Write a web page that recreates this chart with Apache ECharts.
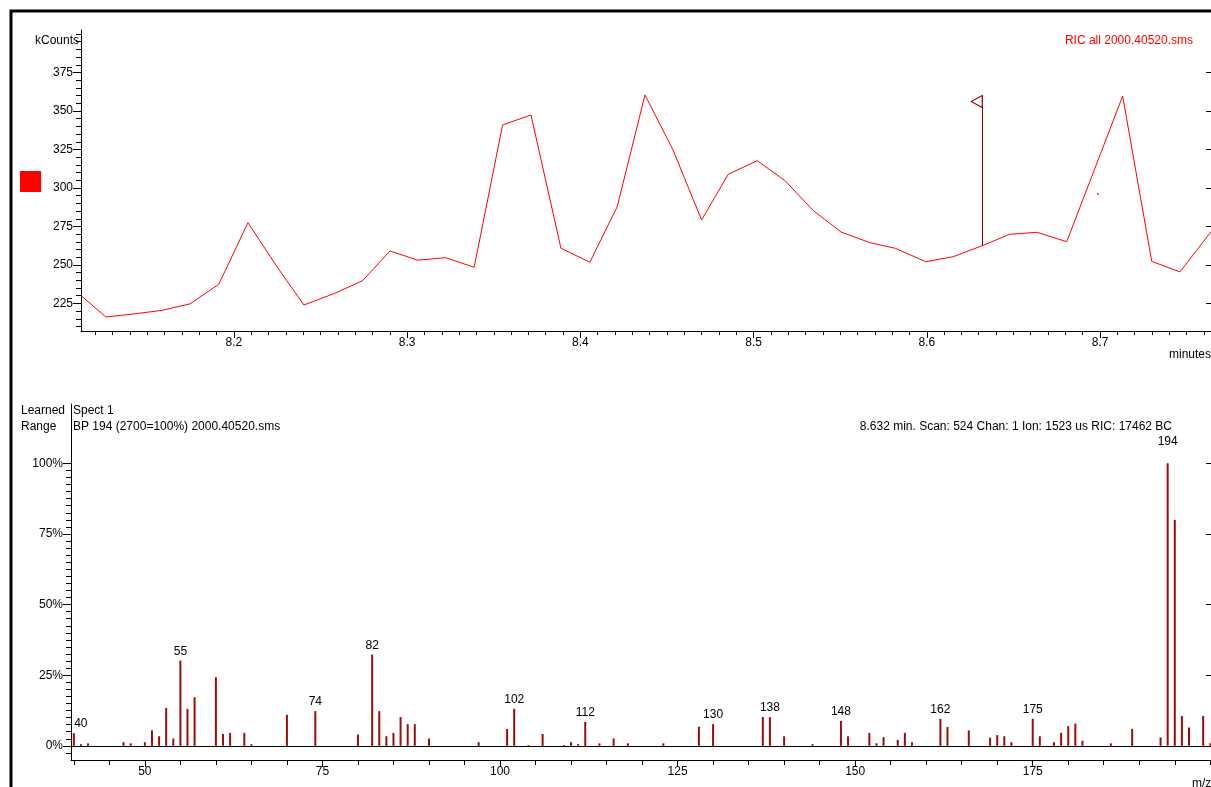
<!DOCTYPE html>
<html>
<head>
<meta charset="utf-8">
<title>RIC all 2000.40520.sms</title>
<script src="https://cdn.jsdelivr.net/npm/echarts@6/dist/echarts.min.js"></script>
<style>
  html, body { margin: 0; padding: 0; background: #fff; }
  #chart { width: 1211px; height: 787px; }
</style>
</head>
<body>
<div id="chart"></div>
<script>
// chromatogram (top panel)
const retentionTime = [8.1117, 8.1261, 8.1423, 8.1584, 8.1746, 8.1913, 8.2081, 8.2248, 8.2404, 8.2583,
  8.2743, 8.2901, 8.3061, 8.3222, 8.3387, 8.3551, 8.3715, 8.3888, 8.4055, 8.4213,
  8.4373, 8.4535, 8.4700, 8.4854, 8.5021, 8.5182, 8.5345, 8.5505, 8.5671, 8.5819,
  8.5995, 8.6154, 8.6320, 8.6478, 8.6636, 8.6808, 8.7131, 8.7299, 8.7462, 8.7641];
const ricCounts = [230.1, 216.2, 218.2, 220.5, 224.7, 237.5, 277.5, 248.9, 224.0, 231.6,
  239.8, 259.1, 253.1, 254.7, 248.5, 340.9, 347.4, 260.8, 251.8, 287.9,
  360.4, 324.7, 279.2, 308.9, 317.7, 304.7, 285.3, 271.4, 264.5, 260.8,
  252.1, 255.4, 262.5, 269.9, 271.2, 265.1, 359.7, 252.3, 245.5, 271.6];
const timeTicks = [8.2, 8.3, 8.4, 8.5, 8.6, 8.7];
const countTicks = [225, 250, 275, 300, 325, 350, 375];
const scanTime = 8.632;
const scanCount = 262.5;
const flagTop = 360;
const strayDot = [8.6988, 296.1];

// mass spectrum (bottom panel)
const mzValues = [40, 41, 42, 47, 48, 50, 51, 52, 53, 54, 55, 56, 57, 60, 61, 62, 64, 65, 70, 74,
  80, 82, 83, 84, 85, 86, 87, 88, 90, 97, 101, 102, 104, 106, 109, 110, 111, 112, 114, 116,
  118, 123, 128, 130, 137, 138, 140, 144, 148, 149, 152, 153, 154, 156, 157, 158, 162, 163, 166, 169,
  170, 171, 172, 175, 176, 178, 179, 180, 181, 182, 186, 189, 193, 194, 195, 196, 197, 199, 200];
const intensities = [4.5, 0.6, 0.9, 1.3, 0.9, 1.3, 5.5, 3.4, 13.4, 2.6, 30.2, 13.1, 17.2, 24.3, 4.2, 4.6, 4.6, 0.6, 11.0, 12.3,
  4.0, 32.3, 12.3, 3.4, 4.6, 10.2, 7.7, 7.7, 2.6, 1.3, 6.0, 13.1, 0.3, 4.2, 0.3, 1.3, 0.6, 8.5, 0.9, 2.6,
  0.9, 0.9, 6.8, 7.7, 10.2, 10.2, 3.4, 0.6, 8.8, 3.4, 4.6, 0.9, 3.1, 2.1, 4.6, 1.3, 9.6, 6.7, 5.5, 2.9,
  3.8, 3.4, 1.3, 9.6, 3.4, 1.3, 4.6, 7.0, 7.9, 1.8, 0.9, 6.0, 3.0, 100, 80, 10.6, 6.5, 10.6, 0.9];
const labelledMz = [40, 55, 74, 82, 102, 112, 130, 138, 148, 162, 175, 194];
const mzTicks = [50, 75, 100, 125, 150, 175];
const pctTicks = [0, 25, 50, 75, 100];

const FONT = '"Liberation Sans", Arial, sans-serif';
const FONT_SIZE = 12;
const TEXT_FONT = FONT_SIZE + 'px ' + FONT;
const INK = '#000';
const BAR_RED = '#9b0c0c';

function steps(from, to, step) {
  const out = [];
  for (let v = from; v <= to + 1e-9; v += step) out.push(+v.toFixed(3));
  return out;
}

// value axis on a fixed scale; several copies share a grid for major/minor/mirror ticks
function axis(base, position, ticks, len, opts) {
  const a = Object.assign({
    type: 'value',
    position: position,
    splitLine: { show: false },
    axisLine: { show: !opts.hideLine, onZero: false, lineStyle: { color: INK, width: 1 } },
    axisTick: { customValues: ticks, length: len, inside: !!opts.inside, lineStyle: { color: INK } },
    axisLabel: { show: false }
  }, base);
  if (opts.labels) {
    a.axisLabel = Object.assign({
      show: true,
      customValues: ticks,
      color: INK,
      fontFamily: FONT,
      fontSize: FONT_SIZE
    }, opts.labels);
  }
  return a;
}

const chart = echarts.init(document.getElementById('chart'));

const topX = { gridIndex: 0, min: 8.1117, max: 8.7641 };
const topY = { gridIndex: 0, min: 207.1, max: 402.6 };
const botX = { gridIndex: 1, min: 39.6, max: 200.1 };
const botY = { gridIndex: 1, min: -5, max: 121 };

const barData = mzValues.map((mz, i) => {
  const item = { value: [mz, intensities[i]] };
  if (mz === 194) item.label = { distance: 16 };
  if (mz === 40) item.label = { offset: [7, 0] };
  return item;
});

chart.setOption({
  animation: false,
  grid: [
    { left: 81, top: 30, width: 1130, height: 301 },
    { left: 71, top: 404, width: 1140, height: 356 }
  ],
  xAxis: [
    axis(topX, 'bottom', timeTicks, 7, { labels: { formatter: v => v.toFixed(1), margin: 6 } }),
    axis(topX, 'bottom', steps(8.12, 8.76, 0.01), 4, { hideLine: true }),
    axis(botX, 'bottom', mzTicks, 7, { labels: { margin: 6 } }),
    axis(botX, 'bottom', steps(40, 200, 5), 5, { hideLine: true })
  ],
  yAxis: [
    axis(topY, 'left', countTicks, 8, { labels: { margin: 8 } }),
    axis(topY, 'left', steps(210, 400, 5), 5, { hideLine: true }),
    axis(topY, 'right', countTicks, 5, { hideLine: true, inside: true }),
    axis(botY, 'left', pctTicks, 8, { labels: { formatter: v => v + '%', margin: 8 } }),
    axis(botY, 'left', steps(-2.5, 100, 2.5), 5, { hideLine: true }),
    axis(botY, 'right', [25, 50, 75, 100], 5, { hideLine: true, inside: true })
  ],
  series: [
    {
      name: 'RIC',
      type: 'line',
      xAxisIndex: 0,
      yAxisIndex: 0,
      data: retentionTime.map((t, i) => [t, ricCounts[i]]),
      showSymbol: false,
      symbol: 'none',
      lineStyle: { color: '#ff0000', width: 1 },
      itemStyle: { color: '#ff0000' },
      markLine: {
        silent: true,
        symbol: ['none', 'none'],
        label: { show: false },
        lineStyle: { color: '#8b0000', width: 1, type: 'solid' },
        data: [[{ coord: [scanTime, scanCount] }, { coord: [scanTime, flagTop] }]]
      },
      markPoint: {
        silent: true,
        symbol: 'path://M12,0 L0,6 L12,12 Z',
        symbolSize: [11, 12],
        symbolOffset: [-5.5, 6],
        itemStyle: { color: '#fff', borderColor: '#8b0000', borderWidth: 1 },
        label: { show: false },
        data: [{ coord: [scanTime, flagTop] }]
      }
    },
    {
      name: 'dot',
      type: 'scatter',
      xAxisIndex: 0,
      yAxisIndex: 0,
      data: [strayDot],
      symbolSize: 2,
      itemStyle: { color: '#ff0000' }
    },
    {
      name: 'Spectrum',
      type: 'bar',
      xAxisIndex: 2,
      yAxisIndex: 3,
      data: barData,
      barWidth: 2,
      itemStyle: { color: BAR_RED },
      label: {
        show: true,
        position: 'top',
        distance: 3,
        color: INK,
        fontFamily: FONT,
        fontSize: FONT_SIZE,
        formatter: p => labelledMz.includes(p.value[0]) ? String(p.value[0]) : ''
      },
      markLine: {
        silent: true,
        symbol: ['none', 'none'],
        label: { show: false },
        lineStyle: { color: INK, width: 1, type: 'solid' },
        data: [{ yAxis: 0 }]
      }
    }
  ],
  graphic: [
    { type: 'rect', shape: { x: 11, y: 11, width: 1300, height: 900 }, style: { fill: 'none', stroke: INK, lineWidth: 3 } },
    { type: 'rect', shape: { x: 20, y: 171, width: 21, height: 21 }, style: { fill: '#ff0000' } },
    { type: 'text', x: 79, y: 41, style: { text: 'kCounts', align: 'right', verticalAlign: 'middle', fill: INK, font: TEXT_FONT } },
    { type: 'text', x: 1193, y: 41, style: { text: 'RIC all 2000.40520.sms', align: 'right', verticalAlign: 'middle', fill: '#ff0000', font: TEXT_FONT } },
    { type: 'text', x: 1169, y: 355, style: { text: 'minutes', align: 'left', verticalAlign: 'middle', fill: INK, font: TEXT_FONT } },
    { type: 'text', x: 21, y: 411, style: { text: 'Learned', verticalAlign: 'middle', fill: INK, font: TEXT_FONT } },
    { type: 'text', x: 73, y: 411, style: { text: 'Spect 1', verticalAlign: 'middle', fill: INK, font: TEXT_FONT } },
    { type: 'text', x: 21, y: 427, style: { text: 'Range', verticalAlign: 'middle', fill: INK, font: TEXT_FONT } },
    { type: 'text', x: 73, y: 427, style: { text: 'BP 194 (2700=100%) 2000.40520.sms', verticalAlign: 'middle', fill: INK, font: TEXT_FONT } },
    { type: 'text', x: 1172, y: 427, style: { text: '8.632 min. Scan: 524 Chan: 1 Ion: 1523 us RIC: 17462 BC', align: 'right', verticalAlign: 'middle', fill: INK, font: TEXT_FONT } },
    { type: 'text', x: 1192, y: 784, style: { text: 'm/z', verticalAlign: 'middle', fill: INK, font: TEXT_FONT } }
  ]
});
</script>
</body>
</html>
